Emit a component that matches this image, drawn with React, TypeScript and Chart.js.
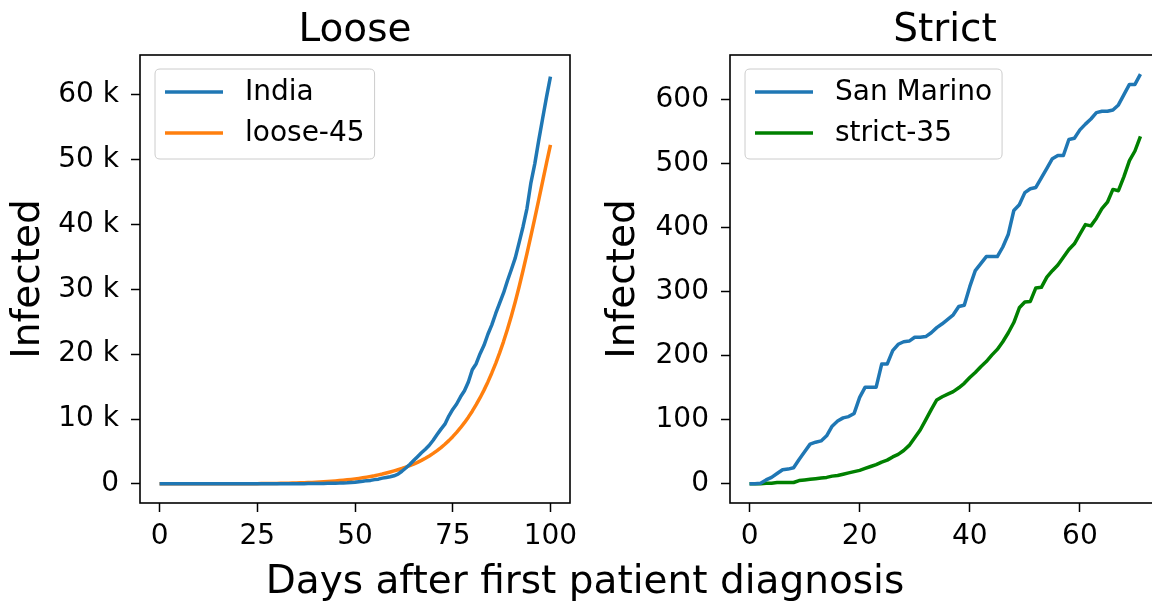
import React, { useEffect, useRef } from 'react';
import { Chart, registerables } from 'chart.js';

Chart.register(...registerables);
Chart.defaults.font.family = '"DejaVu Sans", sans-serif';

// ---------- data ----------
const LOOSE_DAYS = Array.from({ length: 101 }, (_, i) => i);
const INDIA = [
  1, 1, 1, 2, 3, 3, 3, 3, 3, 3,
  3, 3, 3, 3, 3, 3, 3, 3, 3, 3,
  3, 3, 3, 3, 3, 3, 3, 3, 3, 3,
  3, 3, 5, 5, 28, 30, 31, 34, 39, 43,
  56, 62, 73, 82, 102, 113, 119, 142, 156, 194,
  244, 330, 396, 499, 536, 657, 727, 887, 987, 1100,
  1251, 1500, 1950, 2450, 3000, 3600, 4200, 4800, 5350, 5950,
  6725, 7598, 8446, 9205, 10453, 11487, 12322, 13430, 14352, 15722,
  17615, 18539, 20080, 21370, 23077, 24530, 26283, 27890, 29451, 31324,
  33062, 34863, 37257, 39699, 42505, 46437, 49400, 52987, 56351, 59695, 62808,
];
const LOOSE_45 = [
  1, 1, 1, 1, 2, 2, 2, 3, 3, 4,
  4, 5, 6, 7, 8, 9, 10, 12, 14, 16,
  19, 22, 25, 29, 33, 38, 43, 49, 56, 64,
  73, 83, 94, 107, 121, 137, 155, 175, 198, 224,
  258, 290, 325, 365, 410, 455, 505, 560, 625, 695,
  770, 850, 940, 1040, 1150, 1260, 1390, 1520, 1670, 1830,
  2000, 2180, 2370, 2580, 2800, 3050, 3320, 3620, 3950, 4310,
  4700, 5130, 5600, 6110, 6670, 7280, 7940, 8660, 9440, 10290,
  11210, 12210, 13290, 14460, 15730, 17110, 18600, 20200, 21950, 23850,
  25900, 28100, 30450, 32950, 35550, 38250, 41000, 43800, 46650, 49500, 52300,
];

const STRICT_DAYS = Array.from({ length: 72 }, (_, i) => i);
const SAN_MARINO = [
  0, 0, 1, 6, 10, 16, 22, 23, 25, 38,
  50, 62, 65, 67, 75, 90, 98, 103, 105, 110,
  135, 151, 151, 151, 187, 187, 208, 218, 222, 223,
  229, 229, 230, 236, 244, 250, 257, 264, 277, 279,
  308, 333, 344, 355, 355, 355, 370, 390, 427, 436,
  455, 461, 463, 478, 493, 508, 513, 513, 538, 540,
  553, 562, 570, 580, 582, 582, 584, 592, 608, 624,
  624, 640,
];
const STRICT_35 = [
  0, 0, 0, 1, 1, 2, 2, 2, 2, 5,
  6, 7, 8, 9, 10, 12, 13, 15, 17, 19,
  21, 24, 27, 30, 34, 37, 42, 46, 52, 60,
  72, 84, 100, 116, 131, 136, 140, 144, 150, 157,
  166, 174, 183, 191, 201, 210, 222, 236, 252, 275,
  284, 285, 306, 307, 323, 333, 342, 354, 366, 375,
  390, 405, 403, 415, 430, 440, 460, 458, 480, 505,
  520, 543,
];

const LOOSE_X_TICKS = [0, 25, 50, 75, 100];
const LOOSE_Y_TICKS = [0, 10000, 20000, 30000, 40000, 50000, 60000];
const LOOSE_Y_RANGE = [-2950, 66150];
const STRICT_X_TICKS = [0, 20, 40, 60];
const STRICT_Y_TICKS = [0, 100, 200, 300, 400, 500, 600];
const STRICT_Y_RANGE = [-30, 670];

const BLUE = '#1f77b4';
const ORANGE = '#ff7f0e';
const GREEN = '#008000';

// ---------- helpers ----------
function pts(xs: number[], ys: number[]) {
  return xs.map((x, i) => ({ x, y: ys[i] }));
}

function padRange(values: number[]) {
  const lo = Math.min(...values);
  const hi = Math.max(...values);
  const m = (hi - lo) * 0.05;
  return [lo - m, hi + m];
}

const framePlugin = {
  id: 'frameAndText',
  afterDatasetsDraw(chart: any) {
    const { ctx, chartArea: a } = chart;
    ctx.save();
    ctx.strokeStyle = '#000';
    ctx.lineWidth = 1.6;
    ctx.strokeRect(a.left, a.top, a.right - a.left, a.bottom - a.top);
    ctx.restore();
  },
  afterDraw(chart: any, _args: any, opts: any) {
    const { ctx, chartArea: a } = chart;
    ctx.save();
    // title
    ctx.fillStyle = '#000';
    ctx.font = '39px "DejaVu Sans"';
    ctx.textAlign = 'center';
    ctx.textBaseline = 'alphabetic';
    ctx.fillText(opts.title, (a.left + a.right) / 2, 41);

    // legend
    ctx.font = '28px "DejaVu Sans"';
    const ds = chart.data.datasets;
    let tw = 0;
    ds.forEach((d: any) => { tw = Math.max(tw, ctx.measureText(d.label).width); });
    const x0 = a.left + 15;
    const y0 = a.top + 14;
    const w = 90 + tw + 10;
    const h = 90;
    const r = 5;
    ctx.beginPath();
    ctx.moveTo(x0 + r, y0);
    ctx.lineTo(x0 + w - r, y0);
    ctx.quadraticCurveTo(x0 + w, y0, x0 + w, y0 + r);
    ctx.lineTo(x0 + w, y0 + h - r);
    ctx.quadraticCurveTo(x0 + w, y0 + h, x0 + w - r, y0 + h);
    ctx.lineTo(x0 + r, y0 + h);
    ctx.quadraticCurveTo(x0, y0 + h, x0, y0 + h - r);
    ctx.lineTo(x0, y0 + r);
    ctx.quadraticCurveTo(x0, y0, x0 + r, y0);
    ctx.closePath();
    ctx.fillStyle = 'rgba(255,255,255,0.8)';
    ctx.fill();
    ctx.strokeStyle = '#cccccc';
    ctx.lineWidth = 1;
    ctx.stroke();

    ds.forEach((d: any, i: number) => {
      const yy = y0 + 23 + i * 41;
      ctx.strokeStyle = d.borderColor;
      ctx.lineWidth = 3.5;
      ctx.beginPath();
      ctx.moveTo(x0 + 10, yy);
      ctx.lineTo(x0 + 68, yy);
      ctx.stroke();
      ctx.fillStyle = '#000';
      ctx.textAlign = 'left';
      ctx.textBaseline = 'middle';
      ctx.fillText(d.label, x0 + 90, yy + 0.5);
    });
    ctx.restore();
  },
};

function buildConfig(p: any): any {
  const [xMin, xMax] = padRange(p.xs);
  const [yMin, yMax] = p.yRange;
  const tickGrid = {
    display: true,
    drawOnChartArea: false,
    drawTicks: true,
    tickLength: 9,
    tickWidth: 1.5,
    tickColor: '#000',
    color: '#000',
  };
  return {
    type: 'line',
    data: { datasets: p.datasets },
    options: {
      animation: false,
      responsive: false,
      maintainAspectRatio: false,
      devicePixelRatio: 1,
      layout: { padding: { left: 0, right: 30, top: 55, bottom: 0 } },
      elements: {
        point: { radius: 0, hoverRadius: 0 },
        line: { tension: 0, borderJoinStyle: 'round', borderWidth: 3.5 },
      },
      scales: {
        x: {
          type: 'linear',
          min: xMin,
          max: xMax,
          afterBuildTicks: (s: any) => { s.ticks = p.xTicks.map((value: number) => ({ value })); },
          afterFit: (s: any) => { s.height = 101; s.paddingLeft = 0; s.paddingRight = 0; },
          grid: tickGrid,
          border: { display: false },
          ticks: {
            color: '#000',
            font: { size: 28, lineHeight: 1.2 },
            padding: 8,
            maxRotation: 0,
            autoSkip: false,
            callback: (v: number) => String(v),
          },
        },
        y: {
          type: 'linear',
          min: yMin,
          max: yMax,
          afterBuildTicks: (s: any) => { s.ticks = p.yTicks.map((value: number) => ({ value })); },
          afterFit: (s: any) => { s.width = 140; s.paddingTop = 0; s.paddingBottom = 0; },
          grid: tickGrid,
          border: { display: false },
          ticks: {
            color: '#000',
            font: { size: 28, lineHeight: 1.2 },
            padding: 12,
            autoSkip: false,
            callback: p.yFmt,
          },
          title: {
            display: true,
            text: 'Infected',
            color: '#000',
            font: { size: 39, lineHeight: 1 },
            padding: { top: p.yTitlePad, bottom: 0 },
          },
        },
      },
      plugins: {
        legend: { display: false },
        tooltip: { enabled: false },
        frameAndText: { title: p.title },
      },
    },
    plugins: [framePlugin],
  };
}

export default function App() {
  const leftRef = useRef<HTMLCanvasElement>(null);
  const rightRef = useRef<HTMLCanvasElement>(null);

  useEffect(() => {
    const left = new Chart(leftRef.current as HTMLCanvasElement, buildConfig({
      title: 'Loose',
      xs: LOOSE_DAYS,
      yRange: LOOSE_Y_RANGE,
      xTicks: LOOSE_X_TICKS,
      yTicks: LOOSE_Y_TICKS,
      yFmt: (v: number) => (v === 0 ? '0' : `${v / 1000} k`),
      yTitlePad: 9,
      datasets: [
        { label: 'India', data: pts(LOOSE_DAYS, INDIA), borderColor: BLUE, backgroundColor: BLUE, borderWidth: 3.5, fill: false },
        { label: 'loose-45', data: pts(LOOSE_DAYS, LOOSE_45), borderColor: ORANGE, backgroundColor: ORANGE, borderWidth: 3.5, fill: false },
      ],
    }));
    const right = new Chart(rightRef.current as HTMLCanvasElement, buildConfig({
      title: 'Strict',
      xs: STRICT_DAYS,
      yRange: STRICT_Y_RANGE,
      xTicks: STRICT_X_TICKS,
      yTicks: STRICT_Y_TICKS,
      yFmt: (v: number) => String(v),
      yTitlePad: 14,
      datasets: [
        { label: 'San Marino', data: pts(STRICT_DAYS, SAN_MARINO), borderColor: BLUE, backgroundColor: BLUE, borderWidth: 3.5, fill: false },
        { label: 'strict-35', data: pts(STRICT_DAYS, STRICT_35), borderColor: GREEN, backgroundColor: GREEN, borderWidth: 3.5, fill: false },
      ],
    }));
    return () => { left.destroy(); right.destroy(); };
  }, []);

  return (
    <div style={{ position: 'fixed', left: 0, top: 0, width: 1152, height: 604, overflow: 'hidden', background: '#fff' }}>
      <canvas ref={leftRef} width={600} height={604} style={{ position: 'absolute', left: 0, top: 0, width: 600, height: 604 }} />
      <canvas ref={rightRef} width={600} height={604} style={{ position: 'absolute', left: 590, top: 0, width: 600, height: 604 }} />
      <div style={{
        position: 'absolute', left: 0, top: 560, width: 1170, textAlign: 'center',
        fontFamily: '"DejaVu Sans", sans-serif', fontSize: 39, lineHeight: '39px', color: '#000', whiteSpace: 'nowrap',
      }}>
        Days after first patient diagnosis
      </div>
    </div>
  );
}
